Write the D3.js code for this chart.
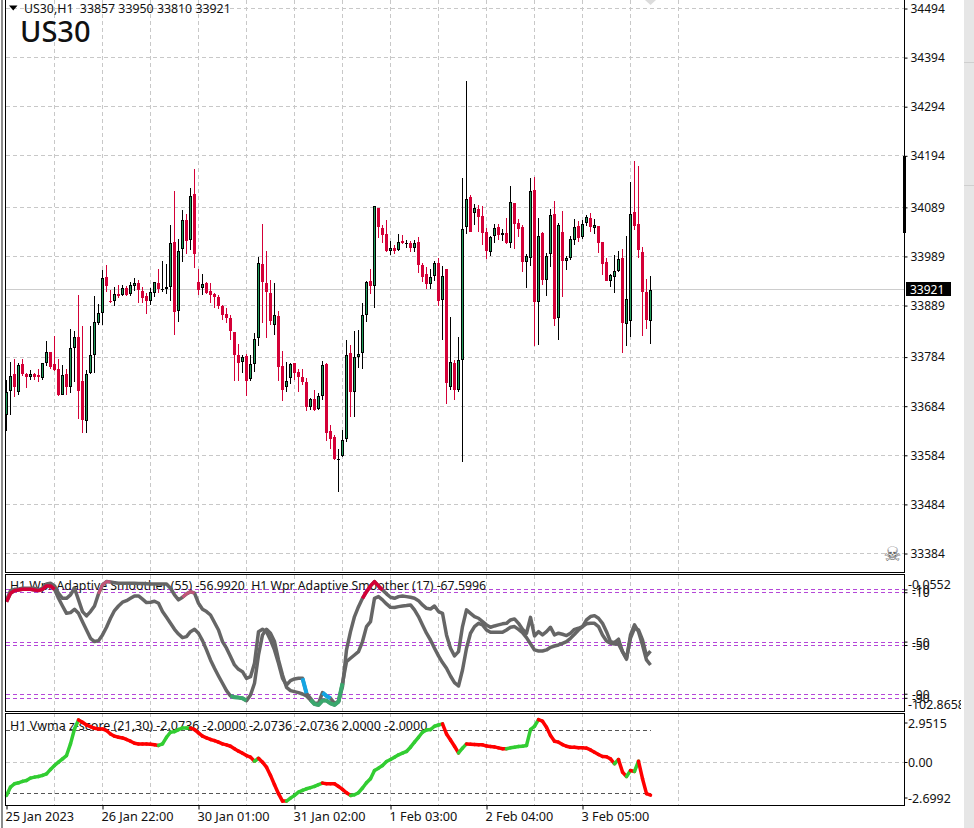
<!DOCTYPE html>
<html><head><meta charset="utf-8">
<script src="https://d3js.org/d3.v7.min.js"></script>
<style>
html,body{margin:0;padding:0;background:#fff;overflow:hidden}
svg{display:block}
text{font-family:"Noto Sans",sans-serif;font-size:12px;fill:#111}
</style></head><body><svg id="c" width="974" height="828"></svg>
<script>
const openPrices=[33667,33715,33750,33713,33769,33749,33743,33749,33747,33741,
33772,33794,33769,33760,33707,33750,33723,33803,33824,33736,
33654,33752,33789,33854,33874,33947,33899,33899,33913,33911,
33924,33913,33929,33934,33918,33908,33899,33915,33934,33921,
33923,33927,34019,33878,34004,34064,34023,34117,33936,33925,
33935,33918,33913,33906,33889,33871,33863,33835,33789,33774,
33786,33739,33769,33822,33973,33934,33915,33850,33867,33765,
33723,33741,33771,33753,33744,33733,33682,33699,33678,33705,
33769,33633,33622,33576,33582,33618,33793,33712,33784,33792,
33870,33939,33929,34087,34047,34034,34000,34006,34002,34020,
34015,34016,34006,34018,33971,33953,33933,33949,33975,33900,
33963,33723,33773,33717,33779,34050,34110,34078,34085,34071,
34038,33998,34031,34048,34033,34036,34017,34098,34057,34049,
33978,33986,34124,33896,34036,33942,33993,34075,33864,34038,
33979,33986,34023,34051,34028,34057,34067,34047,34051,34018,
33977,33939,33947,33959,33985,33852,33858,34079,34055,33998,
33916,33857];
const highPrices=[33738,33775,33781,33771,33781,33752,33757,33752,33759,33773,
33816,33795,33826,33781,33767,33759,33841,33838,33910,33847,
33758,33847,33908,33892,33961,33971,33920,33926,33930,33930,
33929,33936,33945,33942,33926,33915,33924,33936,33963,33979,
33973,34053,34122,34024,34083,34076,34128,34167,33963,33953,
33936,33934,33915,33911,33890,33885,33869,33835,33810,33789,
33790,33788,33833,33987,34055,34000,33941,33934,33877,33796,
33775,33771,33771,33760,33759,33741,33700,33716,33710,33777,
33773,33645,33625,33597,33635,33818,33808,33837,33839,33895,
33939,33963,34091,34087,34053,34063,34020,34012,34034,34032,
34022,34020,34022,34028,33975,33968,33963,33979,33986,33969,
33963,33865,33779,33825,34148,34346,34114,34095,34093,34091,
34046,34030,34056,34055,34044,34067,34132,34098,34065,34053,
33994,34148,34151,34067,34038,33996,34085,34102,34057,34081,
33990,34030,34065,34061,34063,34073,34077,34065,34051,34018,
33985,33953,33992,34000,34004,34030,34140,34183,34173,34008,
33943,33950];
const lowPrices=[33633,33667,33703,33706,33745,33721,33737,33737,33733,33737,
33766,33760,33755,33704,33706,33706,33711,33733,33657,33629,
33629,33749,33752,33849,33849,33916,33894,33888,33904,33908,
33908,33908,33919,33894,33894,33871,33890,33907,33915,33916,
33912,33898,33830,33855,33978,33994,34002,33965,33910,33910,
33912,33894,33885,33881,33860,33853,33818,33735,33735,33751,
33704,33735,33753,33807,33854,33822,33850,33830,33735,33694,
33712,33729,33737,33712,33727,33674,33677,33674,33677,33696,
33614,33597,33574,33510,33580,33611,33663,33662,33762,33760,
33856,33912,33884,34027,34017,33998,33992,33993,34001,34014,
34006,33998,33998,33955,33936,33922,33922,33939,33889,33818,
33689,33718,33696,33712,33571,34034,34038,34053,34038,34012,
33983,33990,34016,34022,34020,34014,34006,34004,34028,33957,
33924,33969,33806,33808,33930,33908,33967,33847,33818,33906,
33961,33981,34012,34018,34025,34051,34038,34034,33996,33951,
33938,33926,33914,33957,33792,33806,33824,34042,33985,33828,
33841,33810];
const closePrices=[33713,33746,33724,33767,33749,33743,33750,33743,33743,33771,
33795,33764,33757,33706,33748,33724,33803,33824,33715,33656,
33750,33789,33856,33873,33946,33929,33898,33913,33908,33924,
33911,33930,33934,33921,33905,33898,33917,33936,33922,33922,
33926,34017,33876,34001,34064,34021,34113,33994,33921,33932,
33915,33910,33906,33888,33869,33863,33837,33788,33773,33785,
33735,33769,33820,33975,33936,33916,33857,33869,33764,33718,
33736,33769,33752,33743,33733,33682,33699,33676,33705,33767,
33629,33618,33576,33577,33616,33789,33713,33785,33791,33869,
33936,33928,34091,34049,34033,34000,34007,34000,34019,34016,
34016,34006,34017,33971,33947,33933,33948,33975,33898,33950,
33731,33775,33718,33779,34044,34107,34039,34087,34069,34037,
34000,34028,34046,34032,34036,34016,34099,34055,34045,33977,
33989,34123,33896,34030,33941,33989,34074,33861,34054,33979,
33985,34024,34050,34026,34056,34069,34049,34053,34016,33973,
33939,33951,33959,33983,33853,33903,34076,34051,34002,33916,
33859,33921];
const wprFast=[-17.6,-10.5,-9.5,-9.2,-8.7,-8.7,-8.7,-8.7,-10,-8.7,
-5.4,-4.9,-6.9,-12.5,-16.4,-16.4,-13.8,-8.7,-17.6,-26.6,
-29.9,-26.6,-22.3,-13,-6.1,-3.6,-3.8,-4.4,-4.9,-4.9,
-4.9,-4.9,-4.9,-5,-5.1,-5.2,-5.4,-5.4,-5.4,-5.4,
-5.4,-8.7,-13.8,-17.6,-15.6,-13,-11.3,-12.5,-20.2,-24.8,
-26.6,-29.2,-35,-40.7,-49.6,-54.7,-61.1,-67.5,-70.9,-72.7,
-77.8,-76.5,-66.3,-42,-40.2,-42,-48.4,-56,-66.3,-77.8,
-82.9,-79.6,-78.3,-77.8,-77.8,-89.3,-93.1,-97,-97,-88.8,
-91.3,-93.1,-97,-95.7,-84.2,-56,-42,-30.4,-22.8,-16.4,
-11.3,-6.9,-3.6,-6.9,-10,-13,-15.6,-16.4,-15.1,-14.6,
-15.1,-15.6,-16.4,-18.2,-21.5,-24.1,-24.6,-22.3,-26.6,-27.9,
-44.5,-54.7,-60.6,-57.3,-38.1,-25.3,-27.9,-30.4,-31.7,-34.3,
-36.8,-38.6,-37.6,-36.8,-36,-35.6,-33,-32.2,-35.6,-40.2,
-43.2,-31,-45.3,-42,-44.5,-42,-38.6,-44.5,-43.2,-44,
-45,-43.2,-40.2,-39.4,-38.1,-33,-30.4,-29.7,-31.7,-35.6,
-42,-49.6,-50.4,-47.8,-57.3,-63.2,-44.5,-36.8,-42,-52.2,
-63.7,-67.6];
const wprSlow=[-19,-12.5,-10.5,-10,-9.5,-9.5,-9.5,-10,-10.5,-9.5,
-6.9,-6.9,-9.5,-16.4,-22.3,-27.9,-27.4,-24.8,-27.9,-34.3,
-40.7,-47.1,-49.6,-48.9,-44.5,-38.6,-31.7,-25.8,-22.3,-19.4,
-18.2,-16.4,-14.6,-14.6,-17.1,-19.7,-19.4,-18.7,-20.2,-26.6,
-31,-35.6,-40.2,-43.8,-46.6,-45.8,-42,-40.2,-43.2,-48.9,
-56,-63.7,-70.1,-76,-81.6,-87.2,-91.3,-92.4,-92.6,-93.1,
-94.9,-90.6,-81.6,-59.9,-44.5,-40.2,-43.2,-49.6,-63.7,-75.2,
-84.7,-87.2,-88,-88.8,-89.8,-91.3,-94.4,-97.5,-98.2,-94.9,
-94.9,-97,-98.2,-95.7,-81.6,-65,-62.4,-59.9,-57.3,-49.6,
-38.1,-34.3,-16.4,-15.1,-17.6,-20.7,-23.3,-23.5,-22.8,-22.3,
-22,-21.5,-25.3,-30.4,-36.8,-43.2,-48.4,-54.7,-60.6,-65.7,
-70.1,-76,-81.1,-83.7,-71.4,-54.7,-43.2,-38.1,-35.6,-36.8,
-40.7,-42.5,-42.5,-42.5,-42.5,-40.7,-38.6,-38.1,-40.2,-42.7,
-46.6,-51.4,-56,-56.8,-56.8,-56,-54,-53,-52.2,-50.9,
-49.6,-47.1,-44,-40.7,-38.1,-36,-35.6,-35.6,-38.1,-44.5,
-49.1,-50.9,-51.4,-51.4,-57.3,-62.4,-47,-39.4,-40.7,-48.4,
-60.6,-56.99];
const zScore=[-2.09,-1.56,-1.35,-1.29,-1.2,-1.14,-0.99,-0.93,-0.89,-0.82,
-0.72,-0.44,-0.19,0.02,0.23,0.44,1.18,2.13,2.7,2.55,
2.38,2.28,2.17,2.13,2.13,2.03,1.81,1.67,1.6,1.56,
1.46,1.35,1.22,1.18,1.18,1.18,1.16,1.12,1.08,1.18,
1.6,1.92,1.96,2.09,2.19,2.19,2.19,2.09,1.88,1.67,
1.56,1.46,1.39,1.29,1.18,1.12,1.03,0.87,0.72,0.59,
0.44,0.34,0.08,0.27,0.02,-0.3,-0.82,-1.41,-1.98,-2.45,
-2.45,-2.26,-2.09,-1.88,-1.77,-1.67,-1.6,-1.52,-1.41,-1.31,
-1.35,-1.35,-1.35,-1.52,-1.71,-1.92,-2.09,-2.05,-1.92,-1.62,
-1.29,-1.03,-0.51,-0.36,-0.19,0.06,0.19,0.34,0.49,0.59,
0.7,0.97,1.29,1.6,1.92,2.07,2.09,2.3,2.38,2.45,
1.81,1.43,1.03,0.61,0.91,1.18,1.16,1.14,1.12,1.12,
1.05,1.01,0.99,0.93,0.87,0.87,0.93,0.97,1.01,1.03,
1.08,2.09,2.3,2.72,2.62,2.24,1.71,1.35,1.29,1.14,
1.03,0.97,0.97,0.93,0.93,0.91,0.8,0.65,0.51,0.38,
0.36,0.23,-0.08,0.19,-0.61,-0.89,-0.51,-0.57,0.08,-1.03,
-1.98,-2.0736];
const priceTicks=[34494,34394,34294,34194,34089,33989,33889,33784,33684,33584,33484,33384];
const wprLevels=[-10,-50,-90];
const zLevels=[2,-2];
const timeBars=[0,24,48,72,96,120,144];
const timeLabels=["25 Jan 2023","26 Jan 22:00","30 Jan 01:00","31 Jan 02:00","1 Feb 03:00","2 Feb 04:00","3 Feb 05:00"];
const gridBars=d3.range(12,180,12);
const lastPrice=33921;
const headerText="US30,H1  33857 33950 33810 33921";
const symbolText="US30";
const wprTitle="H1 Wpr Adaptive Smoother (55) -56.9920  H1 Wpr Adaptive Smoother (17) -67.5996";
const zTitle="H1 Vwma z-score (21,30) -2.0736 -2.0000 -2.0736 -2.0736 2.0000 -2.0000";
// highlighted bar ranges of the Wpr lines [first,last]
const slowHot=[[0,12]], fastRose=[[23,26],[44,47]], fastHot=[[89,94]];
const slowCold=[[56,60],[76,84]], fastBlue=[[74,75],[79,81]];

const W=974,H=828,L=5.5,R=904.5;
const main={t:0,b:572.5},p1={t:574.5,b:711},p2={t:713,b:805};
const x=d3.scaleLinear().domain([0,161]).range([6.5,650.5]);
const y=d3.scaleLinear().domain([33384,34494]).range([553.5,8.5]);
const yW=d3.scaleLinear().domain([-0.0552,-102.8658]).range([577,711]);
const yW2=d3.scaleLinear().domain([-0.0552,-102.8658]).range([579.6,715.3]);
const yZ=d3.scaleLinear().domain([-2.6992,2.9515]).range([805,716]);
const svg=d3.select("#c");
const crimson="#d40037",bullFill="#1f9d5b",gridC="#c8c8c8",dash="4,3";

// scrollbar area and left edge
svg.append("rect").attr("x",964).attr("y",0).attr("width",10).attr("height",H).attr("fill","#e6e6e6");
[62,185].forEach(v=>svg.append("rect").attr("x",964).attr("y",v).attr("width",10).attr("height",1).attr("fill","#cfcfcf"));
svg.append("rect").attr("x",1).attr("y",0).attr("width",2).attr("height",H).attr("fill","#8c8c8c");

// vertical grid
const gridG=svg.append("g").attr("shape-rendering","crispEdges");
[[main.t,main.b],[p1.t,p1.b],[p2.t,p2.b]].forEach(([a,b])=>{
  gridG.append("g").selectAll("line").data(gridBars).join("line")
    .attr("x1",d=>x(d)).attr("x2",d=>x(d)).attr("y1",a).attr("y2",b)
    .attr("stroke",gridC).attr("stroke-dasharray",dash);
});
// horizontal grid main
gridG.append("g").selectAll("line").data(priceTicks).join("line")
  .attr("x1",L).attr("x2",R).attr("y1",d=>y(d)).attr("y2",d=>y(d))
  .attr("stroke",gridC).attr("stroke-dasharray",dash);
const lastY=Math.floor(y(lastPrice))+.5;
svg.append("line").attr("x1",L).attr("x2",R).attr("y1",lastY).attr("y2",lastY).attr("stroke","#cdcdcd");

// candles
const bars=svg.append("g").attr("shape-rendering","crispEdges");
openPrices.forEach((o,i)=>{
  const c=closePrices[i],up=c>=o,cx=x(i)-.5;
  const col=up?"#000":crimson;
  const t=Math.round(y(Math.max(o,c))),b=Math.round(y(Math.min(o,c)));
  bars.append("rect").attr("x",cx).attr("width",1).attr("y",y(highPrices[i])).attr("height",y(lowPrices[i])-y(highPrices[i])).attr("fill",col);
  bars.append("rect").attr("x",cx-1).attr("width",3).attr("y",t).attr("height",Math.max(b-t,1)).attr("fill",col);
  if(up&&b-t>2) bars.append("rect").attr("x",cx).attr("width",1).attr("y",t+1).attr("height",b-t-2).attr("fill",bullFill);
});

// top labels
svg.append("path").attr("d","M9,5.5h8.5l-4.25,5z").attr("fill","#000");
svg.append("text").attr("x",24).attr("y",13).text(headerText).style("white-space","pre").style("font-size","12.35px");
svg.append("text").attr("x",20).attr("y",42).text(symbolText).style("font-size","29px").style("font-weight",500);
svg.append("path").attr("d","M645,0h11l-5.5,5z").attr("fill","#dcdcdc");
svg.append("text").attr("x",892.5).attr("y",561).attr("text-anchor","middle").text("\u2620").style("font-family","DejaVu Sans").style("font-size","20px").style("fill","#666");

// Wpr panel
const levelG=svg.append("g").attr("shape-rendering","crispEdges");
[yW,yW2].forEach(s=>{
  levelG.append("g").selectAll("line").data(wprLevels).join("line")
    .attr("x1",L).attr("x2",R).attr("y1",d=>s(d)).attr("y2",d=>s(d))
    .attr("stroke","#b548d8").attr("stroke-dasharray",dash);
});
svg.append("text").attr("x",10).attr("y",590).text(wprTitle).style("white-space","pre").style("font-size","12.3px");
const lineW=d3.line().x((d,i)=>x(i)).y(d=>yW(d));
const seg=(arr,ranges,color,w)=>ranges.forEach(([a,b])=>{
  const pts=d3.range(a,b+1);
  svg.append("path").attr("fill","none").attr("stroke",color).attr("stroke-width",w).attr("stroke-linejoin","round")
    .attr("d",d3.line().x(i=>x(i)).y(i=>yW(arr[i]))(pts));
});
svg.append("path").attr("d",lineW(wprSlow)).attr("fill","none").attr("stroke","#666").attr("stroke-width",3.5).attr("stroke-linejoin","round");
svg.append("path").attr("d",lineW(wprFast)).attr("fill","none").attr("stroke","#666").attr("stroke-width",3.5).attr("stroke-linejoin","round");
seg(wprFast,fastRose,"#c2557a",3);
seg(wprSlow,slowHot,crimson,3.5);
seg(wprFast,fastHot,crimson,3.5);
seg(wprSlow,slowCold,"#3aa76d",4);
seg(wprFast,fastBlue,"#14a5e3",4);

// z panel
levelG.append("line").attr("x1",L).attr("x2",R).attr("y1",yZ(0)).attr("y2",yZ(0)).attr("stroke",gridC).attr("stroke-dasharray",dash);
levelG.append("g").selectAll("line").data(zLevels).join("line")
  .attr("x1",L).attr("x2",x(161)).attr("y1",d=>yZ(d)).attr("y2",d=>yZ(d))
  .attr("stroke","#555").attr("stroke-dasharray",dash);
svg.append("text").attr("x",10).attr("y",730).text(zTitle).style("font-size","12.5px");
let prevUp=true;
zScore.slice(1).forEach((v,k)=>{
  const a=zScore[k]; if(v!==a) prevUp=v>a;
  svg.append("line").attr("x1",x(k)).attr("x2",x(k+1)).attr("y1",yZ(a)).attr("y2",yZ(v))
    .attr("stroke",prevUp?"#32cd32":"#ff0000").attr("stroke-width",3.5).attr("stroke-linecap","round");
});

// frames
const fr=svg.append("g").attr("stroke","#000").attr("fill","none").attr("shape-rendering","crispEdges");
fr.append("rect").attr("x",L).attr("y",-2).attr("width",R-L).attr("height",main.b+2);
fr.append("rect").attr("x",L).attr("y",p1.t).attr("width",R-L).attr("height",p1.b-p1.t+.5);
fr.append("rect").attr("x",L).attr("y",p2.t+.5).attr("width",R-L).attr("height",p2.b-p2.t);
svg.append("rect").attr("x",903).attr("y",156).attr("width",3).attr("height",77).attr("fill","#000");

// price axis
const ax=svg.append("g").attr("transform",`translate(${R},0)`)
  .call(d3.axisRight(y).tickValues(priceTicks).tickSize(3).tickPadding(3).tickFormat(d3.format("d")));
ax.select(".domain").remove();
ax.selectAll("text").style("font-size","12px").style("font-family",'"Noto Sans"').attr("fill","#111");
ax.selectAll("line").attr("stroke","#000");
// last price tag
svg.append("rect").attr("x",906).attr("y",Math.floor(y(lastPrice))-7).attr("width",45).attr("height",14).attr("fill","#000");
svg.append("text").attr("x",910).attr("y",Math.floor(y(lastPrice))+4.5).text(lastPrice).style("fill","#fff");

// Wpr axis labels
const clip=svg.append("defs").append("clipPath").attr("id","ax").append("rect").attr("x",905).attr("y",0).attr("width",56).attr("height",H);
const rg=svg.append("g").attr("clip-path","url(#ax)");
const lab=(txt,py,tick)=>{
  rg.append("text").attr("x",908).attr("y",py+4.5).text(txt).style("font-size","12.4px");
  if(tick) rg.append("line").attr("x1",R).attr("x2",R+3).attr("y1",py).attr("y2",py).attr("stroke","#000");
};
[yW,yW2].forEach(s=>wprLevels.forEach(v=>{
  rg.append("text").attr("x",912).attr("y",s(v)+4.5).text(String(v));
  rg.append("line").attr("x1",R).attr("x2",R+3).attr("y1",s(v)).attr("y2",s(v)).attr("stroke","#000");
}));
lab("-0.0552",yW(-0.0552)+7,false);
lab("-102.8658",yW(-102.8658)-7,false);
lab("2.9515",yZ(2.9515)+7,true);
lab("0.00",yZ(0),true);
lab("-2.6992",yZ(-2.6992)-7,true);

// time axis
const tx=svg.append("g").attr("transform",`translate(0,${p2.b+.5})`)
  .call(d3.axisBottom(x).tickValues(timeBars).tickSize(4).tickFormat((d,i)=>timeLabels[i]));
tx.select(".domain").remove();
tx.selectAll("line").attr("stroke","#000");
tx.selectAll("text").attr("text-anchor","start").attr("x",-1.5).attr("dy","0.71em").attr("y",6).style("font-size","12.7px").style("font-family",'"Noto Sans"').attr("fill","#111");
</script></body></html>
